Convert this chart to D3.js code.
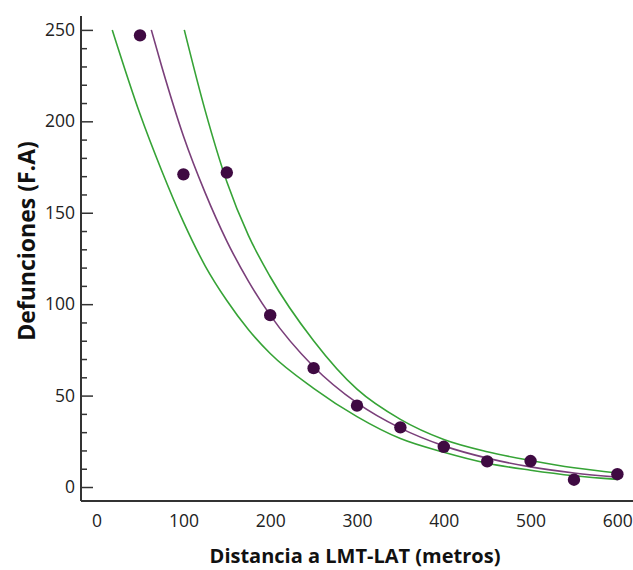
<!DOCTYPE html>
<html>
<head>
<meta charset="utf-8">
<script src="https://cdn.jsdelivr.net/npm/d3@7"></script>
<style>
  body { margin: 0; background: #fff; }
  svg { display: block; }
</style>
</head>
<body>
<div id="chart"></div>
<script>
// observed points
const distancia = [50, 100, 150, 200, 250, 300, 350, 400, 450, 500, 550, 600];
const defunciones = [247, 171, 172, 94, 65, 44.5, 32.6, 22, 14, 14.2, 4, 7];

// fitted curve
const ajusteX = [63, 75, 100, 125, 150, 175, 200, 250, 300, 350, 400, 450, 500, 550, 600];
const ajusteY = [250, 230, 192, 161, 134.5, 112.5, 94, 65.8, 46, 32.2, 22.5, 15.8, 11, 7.7, 5.4];

// lower band
const inferiorX = [18, 50, 75, 100, 125, 150, 175, 200, 250, 300, 350, 400, 450, 500, 550, 600];
const inferiorY = [250, 204, 173, 145, 121, 102, 86, 73, 54, 38.5, 26.5, 19, 13, 9.2, 6.2, 4.2];

// upper band
const superiorX = [101, 125, 150, 175, 200, 250, 300, 350, 400, 450, 500, 550, 600];
const superiorY = [250, 206, 167, 137.5, 115, 80, 53.5, 37, 26, 19.3, 14.5, 10.5, 7.7];

const xTicks = [0, 100, 200, 300, 400, 500, 600];
const yTicks = [0, 50, 100, 150, 200, 250];
const yMinor = [10, 20, 30, 40, 60, 70, 80, 90, 110, 120, 130, 140, 160, 170, 180, 190, 210, 220, 230, 240];

const width = 633, height = 570;
const margin = { left: 81, right: 633, top: 16, bottom: 501 };

const svg = d3.select("#chart")
    .append("svg")
    .attr("width", width)
    .attr("height", height);

const x = d3.scaleLinear()
    .domain([-18, 618])
    .range([margin.left, margin.right]);

const y = d3.scaleLinear()
    .domain([-7.65, 257.6])
    .range([margin.bottom, margin.top]);

const font = "'Open Sans', sans-serif";

// y axis, ticks pointing inward
const yAxis = svg.append("g")
    .attr("transform", `translate(${margin.left},0)`)
    .call(d3.axisLeft(y).tickValues(yTicks).tickSize(-12).tickPadding(6).tickFormat(d3.format("d")));
yAxis.select(".domain").remove();
yAxis.selectAll(".tick line").attr("stroke", "#333").attr("stroke-width", 1.5);
yAxis.selectAll(".tick text")
    .attr("fill", "#222")
    .style("font-family", font)
    .style("font-size", "17.5px");

const yAxisMinor = svg.append("g")
    .attr("transform", `translate(${margin.left},0)`)
    .call(d3.axisLeft(y).tickValues(yMinor).tickSize(-6).tickFormat(""));
yAxisMinor.select(".domain").remove();
yAxisMinor.selectAll(".tick line").attr("stroke", "#333").attr("stroke-width", 1.5);

// x axis, labels only
const xAxis = svg.append("g")
    .attr("transform", `translate(0,${margin.bottom})`)
    .call(d3.axisBottom(x).tickValues(xTicks).tickSize(0).tickPadding(14));
xAxis.select(".domain").remove();
xAxis.selectAll(".tick text")
    .attr("fill", "#222")
    .style("font-family", font)
    .style("font-size", "17.5px");

// axis lines
svg.append("line")
    .attr("x1", margin.left).attr("x2", margin.left)
    .attr("y1", margin.top).attr("y2", margin.bottom)
    .attr("stroke", "#333").attr("stroke-width", 2);
svg.append("line")
    .attr("x1", margin.left).attr("x2", margin.right)
    .attr("y1", margin.bottom).attr("y2", margin.bottom)
    .attr("stroke", "#333").attr("stroke-width", 2);

const line = d3.line()
    .x(d => x(d[0]))
    .y(d => y(d[1]))
    .curve(d3.curveMonotoneX);

const bandas = [
    { xs: inferiorX, ys: inferiorY, color: "#36a336" },
    { xs: superiorX, ys: superiorY, color: "#36a336" },
    { xs: ajusteX, ys: ajusteY, color: "#7a3f7a" }
];

bandas.forEach(b => {
    svg.append("path")
        .datum(b.xs.map((v, i) => [v, b.ys[i]]))
        .attr("d", line)
        .attr("fill", "none")
        .attr("stroke", b.color)
        .attr("stroke-width", 1.6);
});

svg.selectAll(".punto")
    .data(distancia.map((v, i) => [v, defunciones[i]]))
    .enter()
    .append("circle")
    .attr("class", "punto")
    .attr("cx", d => x(d[0]))
    .attr("cy", d => y(d[1]))
    .attr("r", 6.2)
    .attr("fill", "#3f0a42");

// titles
svg.append("text")
    .attr("x", 355)
    .attr("y", 563)
    .attr("text-anchor", "middle")
    .style("font-family", font)
    .style("font-weight", "bold")
    .style("font-size", "20px")
    .attr("fill", "#111")
    .text("Distancia a LMT-LAT (metros)");

svg.append("text")
    .attr("transform", "translate(35,241) rotate(-90)")
    .attr("text-anchor", "middle")
    .style("font-family", font)
    .style("font-weight", "bold")
    .style("font-size", "23px")
    .attr("fill", "#111")
    .text("Defunciones (F.A)");
</script>
</body>
</html>
